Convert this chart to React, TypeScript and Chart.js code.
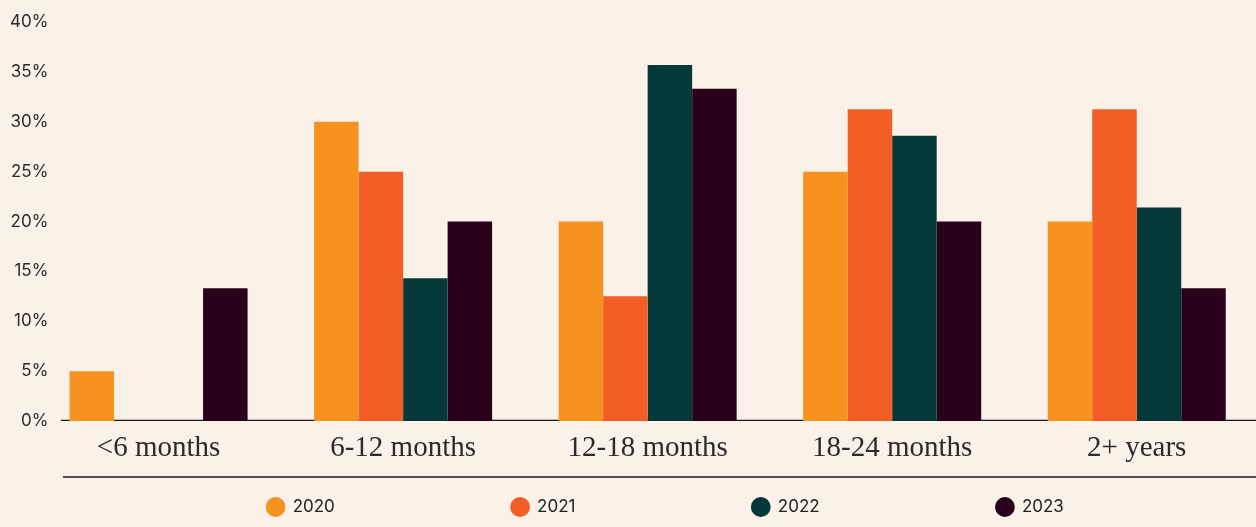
import React, { useEffect, useRef } from "react";
import { Chart, registerables } from "chart.js";

Chart.register(...registerables);

const categories = ["<6 months", "6-12 months", "12-18 months", "18-24 months", "2+ years"];
const seriesLabels = ["2020", "2021", "2022", "2023"];
const values2020 = [5, 30, 20, 25, 20];
const values2021 = [0, 25, 12.5, 31.25, 31.25];
const values2022 = [0, 14.3, 35.7, 28.6, 21.4];
const values2023 = [13.3, 20, 33.3, 20, 13.3];
const seriesColors = ["#F7911F", "#F25E25", "#053838", "#2A001A"];
const yMin = 0;
const yMax = 40;
const yStep = 5;

const BG = "#FAF1E8";
const CANVAS_W = 1331;
const CANVAS_H = 527;

const linesPlugin = {
  id: "decorLines",
  beforeDatasetsDraw(chart: any) {
    const { ctx, scales } = chart;
    const y0 = scales.y.getPixelForValue(0);
    ctx.save();
    ctx.strokeStyle = "#1a1a1a";
    ctx.lineWidth = 1.3;
    ctx.beginPath();
    ctx.moveTo(61, y0 - 0.6);
    ctx.lineTo(chart.width, y0 - 0.6);
    ctx.stroke();
    ctx.restore();
  },
  afterDraw(chart: any) {
    const { ctx, scales } = chart;
    const yb = scales.y.getPixelForValue(0) + 56;
    ctx.save();
    ctx.strokeStyle = "#1a1a1a";
    ctx.lineWidth = 1.4;
    ctx.beginPath();
    ctx.moveTo(63, yb);
    ctx.lineTo(chart.width, yb);
    ctx.stroke();
    ctx.restore();
  },
};

export default function App() {
  const ref = useRef<HTMLCanvasElement | null>(null);

  useEffect(() => {
    if (!ref.current) return;
    const allValues = [values2020, values2021, values2022, values2023];
    const chart = new Chart(ref.current, {
      type: "bar",
      data: {
        labels: categories,
        datasets: seriesLabels.map((label, i) => ({
          label,
          data: allValues[i],
          backgroundColor: seriesColors[i],
          borderWidth: 0,
          categoryPercentage: 0.728,
          barPercentage: 1,
        })),
      },
      options: {
        responsive: false,
        animation: false,
        devicePixelRatio: 1,
        layout: { padding: { top: 22, left: 0, right: 0, bottom: 1.5 } },
        plugins: {
          tooltip: { enabled: false },
          legend: {
            display: true,
            position: "bottom",
            labels: {
              usePointStyle: true,
              pointStyle: "circle",
              boxHeight: 14,
              padding: 23.8,
              textAlign: "left",
              color: "#222222",
              font: { family: "Inter", size: 17 },
              generateLabels: (c: any) => {
                const items = Chart.defaults.plugins.legend.labels.generateLabels(c);
                return items.map((it: any, i: number) => ({
                  ...it,
                  text: i < items.length - 1 ? it.text + "\u2003".repeat(9) : it.text,
                  lineWidth: 0,
                  strokeStyle: "rgba(0,0,0,0)",
                  pointStyle: "circle",
                }));
              },
            },
          },
        },
        scales: {
          x: {
            grid: { display: false, drawTicks: false },
            border: { display: false },
            ticks: {
              padding: 10,
              maxRotation: 0,
              autoSkip: false,
              color: "#2b2b2b",
              font: { family: "Liberation Serif", size: 29 },
            },
            afterFit: (s: any) => {
              s.height = 53.7;
            },
          },
          y: {
            min: yMin,
            max: yMax,
            grid: { display: false, drawTicks: false },
            border: { display: false },
            ticks: {
              stepSize: yStep,
              mirror: true,
              crossAlign: "far",
              padding: -26.3,
              color: "#2b2b2b",
              font: { family: "Inter", size: 17 },
              callback: (v: any) => v + "%",
            },
            afterFit: (s: any) => {
              s.width = 36.3;
            },
          },
          y2: {
            position: "right",
            display: true,
            grid: { display: false, drawTicks: false },
            border: { display: false },
            ticks: { display: false },
            afterFit: (s: any) => {
              s.width = 72;
            },
          },
        },
      },
      plugins: [linesPlugin],
    } as any);
    return () => chart.destroy();
  }, []);

  return (
    <div
      style={{
        position: "fixed",
        left: 0,
        top: 0,
        width: 1256,
        height: 527,
        overflow: "hidden",
        background: BG,
      }}
    >
      <canvas
        ref={ref}
        width={CANVAS_W}
        height={CANVAS_H}
        style={{ display: "block", width: CANVAS_W, height: CANVAS_H }}
      />
    </div>
  );
}
